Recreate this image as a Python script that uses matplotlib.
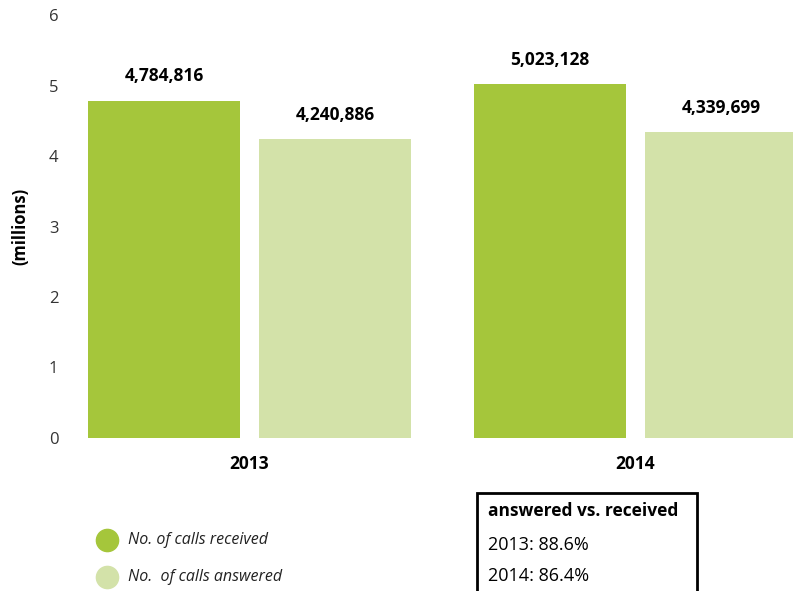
import matplotlib.pyplot as plt
import numpy as np
from matplotlib.patches import Rectangle

years = ["2013", "2014"]
received = [4784816, 5023128]
answered = [4240886, 4339699]
ratio_lines = ["2013: 88.6%", "2014: 86.4%"]

C_RECV = "#A5C63B"
C_ANS = "#D3E2A9"

plt.rcParams["font.family"] = ["Open Sans", "DejaVu Sans"]

fig = plt.figure(figsize=(7.93, 5.91), dpi=100)
ax = fig.add_axes([0.0946, 0.2589, 0.9054, 0.7157])

x = np.arange(len(years))
w = 0.394
off = 0.2215
recv_m = np.array(received) / 1e6
ans_m = np.array(answered) / 1e6
ax.bar(x - off, recv_m, w, color=C_RECV)
ax.bar(x + off, ans_m, w, color=C_ANS)

for xs, vals in [(x - off, received), (x + off, answered)]:
    for xi, v in zip(xs, vals):
        ax.annotate(f"{v:,}", (xi, v / 1e6), xytext=(0, 11), textcoords="offset points",
                    ha="center", va="bottom", fontsize=12.5, fontweight="bold")

ax.set_xlim(-0.452, 1.408)
ax.set_ylim(0, 6)
ax.set_yticks(range(7))
ax.tick_params(axis="y", length=0, labelsize=12, labelcolor="#333333", pad=12)
ax.set_xticks(x)
ax.set_xticklabels(years, fontsize=12.5, fontweight="bold")
ax.tick_params(axis="x", length=0, pad=12)
ax.set_ylabel("(millions)", fontsize=12, fontweight="bold", labelpad=14)
for s in ax.spines.values():
    s.set_visible(False)

# legend
for yy, col, lab in [(540, C_RECV, "No. of calls received"), (577, C_ANS, "No.  of calls answered")]:
    fig.add_artist(plt.Line2D([107 / 793], [1 - yy / 591], marker="o", markersize=16,
                              color=col, lw=0, transform=fig.transFigure))
    fig.text(128 / 793, 1 - yy / 591, lab, fontsize=11.5, style="italic",
             va="center", ha="left", color="#222222")

# ratio box
fig.add_artist(Rectangle((477 / 793, -0.01), 220 / 793, 1 - 493 / 591 + 0.01,
                         transform=fig.transFigure, fill=False, lw=2, ec="black"))
fig.text(488 / 793, 1 - 511 / 591, "answered vs. received", fontsize=12.5,
         fontweight="bold", va="center")
for yy, t in zip([545, 576], ratio_lines):
    fig.text(488 / 793, 1 - yy / 591, t, fontsize=13, va="center")

fig.savefig("out.png", dpi=100)
